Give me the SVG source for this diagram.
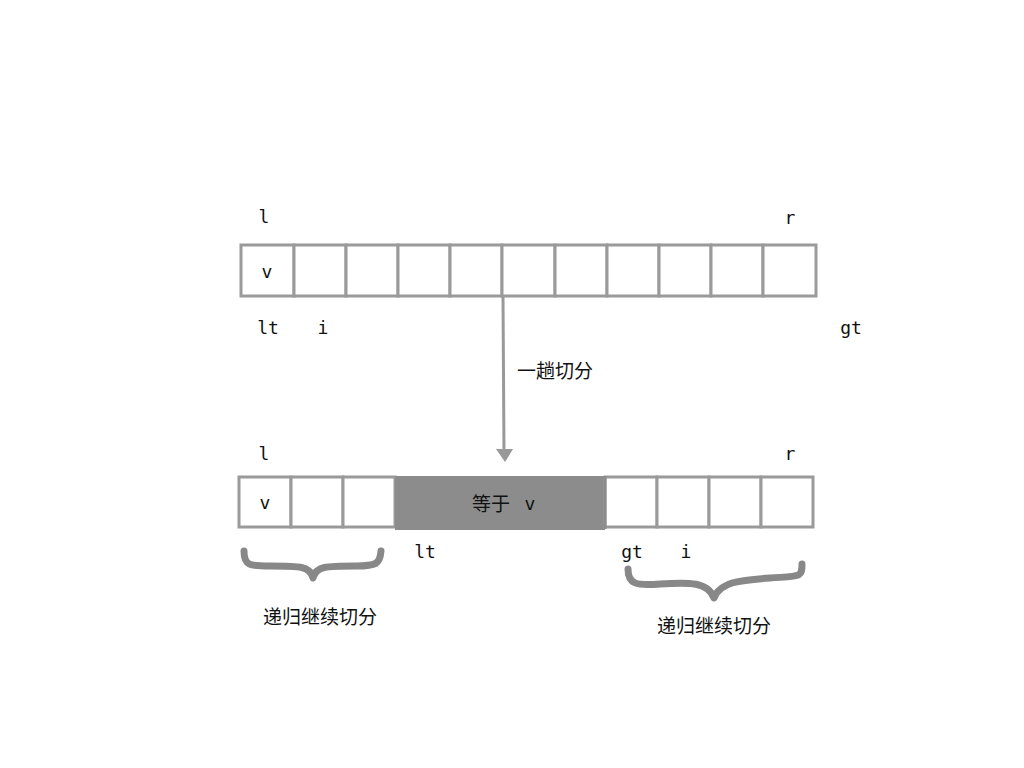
<svg xmlns="http://www.w3.org/2000/svg" width="1024" height="768" viewBox="0 0 1024 768">
<defs>
<style>
.cell{fill:#fff;stroke:#9a9a9a;stroke-width:3}
.mono{font-family:"DejaVu Sans Mono","Liberation Mono",monospace;font-size:18px;fill:#111}
.cjk{font-family:"Noto Sans CJK SC",sans-serif;font-size:19px;fill:#111}
.line{fill:none;stroke:#999;stroke-width:3}
.brace{fill:none;stroke:#888;stroke-width:7;stroke-linecap:round;stroke-linejoin:round}
</style>
</defs>
<rect width="1024" height="768" fill="#fff"/>
<g id="top-array">
<rect class="cell" x="241" y="245" width="53" height="51"/>
<rect class="cell" x="294" y="245" width="52" height="51"/>
<rect class="cell" x="346" y="245" width="52" height="51"/>
<rect class="cell" x="398" y="245" width="52" height="51"/>
<rect class="cell" x="450" y="245" width="52" height="51"/>
<rect class="cell" x="502" y="245" width="53" height="51"/>
<rect class="cell" x="555" y="245" width="52" height="51"/>
<rect class="cell" x="607" y="245" width="52" height="51"/>
<rect class="cell" x="659" y="245" width="52" height="51"/>
<rect class="cell" x="711" y="245" width="52" height="51"/>
<rect class="cell" x="763" y="245" width="53" height="51"/>
<text class="mono" x="267" y="278" text-anchor="middle">v</text>
</g>
<g id="top-labels">
<text class="mono" x="264" y="223" text-anchor="middle">l</text>
<text class="mono" x="790" y="224" text-anchor="middle">r</text>
<text class="mono" x="268" y="334" text-anchor="middle">lt</text>
<text class="mono" x="323" y="334" text-anchor="middle">i</text>
<text class="mono" x="851" y="334" text-anchor="middle">gt</text>
</g>
<g id="connectors">
<line class="line" x1="503" y1="297" x2="504" y2="452"/>
<path d="M496,449 L513,449 L505,462 Z" fill="#999"/>
</g>
<text class="cjk" x="517" y="378">一趟切分</text>
<g id="bottom-array">
<rect class="cell" x="239" y="477" width="52" height="50"/>
<rect class="cell" x="291" y="477" width="52" height="50"/>
<rect class="cell" x="343" y="477" width="52" height="50"/>
<rect x="395" y="476" width="210" height="54" fill="#8c8c8c"/>
<rect class="cell" x="605" y="477" width="52" height="50"/>
<rect class="cell" x="657" y="477" width="52" height="50"/>
<rect class="cell" x="709" y="477" width="52" height="50"/>
<rect class="cell" x="761" y="477" width="52" height="50"/>
<line x1="605" y1="476" x2="605" y2="529" stroke="#8c8c8c" stroke-width="3"/>
<text class="mono" x="265" y="509" text-anchor="middle">v</text>
<text class="cjk" x="472" y="511">等于</text>
<text class="mono" x="530" y="510" text-anchor="middle">v</text>
</g>
<g id="bottom-labels">
<text class="mono" x="264" y="460" text-anchor="middle">l</text>
<text class="mono" x="790" y="460" text-anchor="middle">r</text>
<text class="mono" x="425" y="558" text-anchor="middle">lt</text>
<text class="mono" x="632" y="558" text-anchor="middle">gt</text>
<text class="mono" x="686" y="558" text-anchor="middle">i</text>
</g>
<g id="left-brace">
<path class="brace" d="M244,551 C244,566 250,566 270,566 C300,566 310,566 313,578 C316,566 326,566 356,566 C376,566 380,564 381,551"/>
<text class="cjk" x="320" y="624" text-anchor="middle">递归继续切分</text>
</g>
<g id="right-brace">
<path class="brace" d="M628,569 C628,584 636,586 660,584 C690,582 708,582 714,598 C720,582 740,580 770,578 C800,576 802,578 802,564"/>
<text class="cjk" x="714" y="633" text-anchor="middle">递归继续切分</text>
</g>
</svg>
